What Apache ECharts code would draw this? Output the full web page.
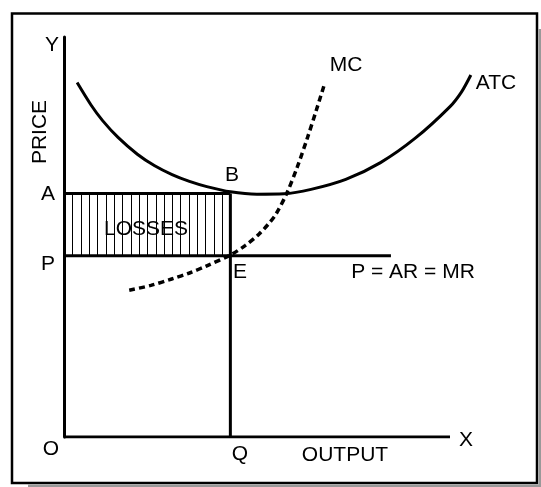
<!DOCTYPE html>
<html>
<head>
<meta charset="utf-8">
<script src="https://cdn.jsdelivr.net/npm/echarts@6/dist/echarts.min.js"></script>
<style>
html,body{margin:0;padding:0;background:#fff;}
#chart{width:541px;height:487px;}
</style>
</head>
<body>
<div id="chart"></div>
<script>
// ---- data (x: output, y: price; axis drawn 0..100) ----
const atcCurve = [[3.4,88.6],[7,83.0],[10,79.1],[14,74.9],[19,70.7],[23.5,67.8],[28,65.6],[32.5,63.9],[37,62.6],[43.1,61.3],[50,60.7],[57,60.8],[64,61.9],[73,64.4],[82,68.6],[91,74.7],[100,82.6],[103,86.3],[105.4,90.5]];
const mcCurve = [[16.9,36.7],[22.5,37.9],[27.9,39.5],[32.5,41.0],[37.0,42.8],[43.1,45.5],[47,47.9],[50.5,50.7],[53,53.3],[54.9,55.7],[57.7,60.9],[60.4,67.4],[63.1,74.9],[65.3,81.5],[67.6,88.6]];
const priceP = 45.3;      // P = AR = MR level
const costA = 60.9;       // A = ATC at Q
const outputQ = 43.1;     // Q
const mrEnd = 84.7;       // end of the P = AR = MR line
const xAxisEnd = 100;     // end of the drawn X axis
const mrLine = [[0, priceP], [mrEnd, priceP]];
const aLine = [[0, costA], [outputQ, costA]];
const qLine = [[outputQ, 0], [outputQ, costA]];
const xAxisLine = [[0, 0], [xAxisEnd, 0]];
const lossRect = [[0, priceP, outputQ, costA]];

const FONT = '21px "Liberation Sans", Arial, sans-serif';
function txt(t, x, y, extra) {
  return Object.assign({
    type: 'text', x: x, y: y, z: 10,
    style: { text: t, font: FONT, fill: '#000', align: 'center', verticalAlign: 'middle' }
  }, extra || {});
}

const chart = echarts.init(document.getElementById('chart'), null, { renderer: 'canvas' });
const blackLine = { color: '#000', width: 3 };
chart.setOption({
  animation: false,
  backgroundColor: '#fff',
  grid: { left: 64, right: 52.4, top: 37, bottom: 50 },
  xAxis: {
    type: 'value', min: 0, max: 110,
    axisLine: { show: false },
    axisTick: { show: false }, axisLabel: { show: false }, splitLine: { show: false }
  },
  yAxis: {
    type: 'value', min: 0, max: 100,
    axisLine: { show: true, lineStyle: { color: '#000', width: 3 } },
    axisTick: { show: false }, axisLabel: { show: false }, splitLine: { show: false }
  },
  series: [
    {
      type: 'custom', name: 'losses', data: lossRect, clip: false, z: 1,
      renderItem: function (params, api) {
        const p0 = api.coord([api.value(0), api.value(1)]);
        const p1 = api.coord([api.value(2), api.value(3)]);
        const left = p0[0], right = p1[0], bottom = p0[1], top = p1[1];
        const n = Math.round((right - left) / 8.3);
        const step = (right - left) / n;
        const children = [];
        for (let i = 1; i < n; i++) {
          const x = Math.round(left + i * step) + 0.5;
          children.push({ type: 'line', shape: { x1: x, y1: top, x2: x, y2: bottom }, style: { stroke: '#000', lineWidth: 1 } });
        }
        return { type: 'group', children: children };
      }
    },
    { type: 'line', name: 'ATC', data: atcCurve, smooth: 0.3, showSymbol: false, symbol: 'none', lineStyle: blackLine, z: 3 },
    { type: 'line', name: 'MC', data: mcCurve, smooth: 0.3, showSymbol: false, symbol: 'none', lineStyle: { color: '#000', width: 3.5, type: [6, 4] }, z: 3 },
    { type: 'line', name: 'MR', data: mrLine, showSymbol: false, symbol: 'none', lineStyle: blackLine, z: 2 },
    { type: 'line', name: 'A', data: aLine, showSymbol: false, symbol: 'none', lineStyle: blackLine, z: 2 },
    { type: 'line', name: 'Q', data: qLine, showSymbol: false, symbol: 'none', lineStyle: blackLine, z: 2 },
    { type: 'line', name: 'Xaxis', data: xAxisLine, showSymbol: false, symbol: 'none', lineStyle: blackLine, z: 2 }
  ],
  graphic: [
    { type: 'rect', z: 0, shape: { x: 12, y: 13.5, width: 525, height: 469.5 }, style: { fill: 'none', stroke: '#000', lineWidth: 2.5 } },
    { type: 'line', z: 0, shape: { x1: 540, y1: 29, x2: 540, y2: 487 }, style: { stroke: '#999', lineWidth: 3 } },
    { type: 'line', z: 0, shape: { x1: 28, y1: 486, x2: 541, y2: 486 }, style: { stroke: '#999', lineWidth: 3 } },
    txt('Y', 52, 45),
    txt('PRICE', 40, 132, { rotation: Math.PI / 2 }),
    txt('A', 48, 194),
    txt('P', 48, 264),
    txt('B', 232, 175),
    txt('E', 240, 272),
    txt('LOSSES', 146, 229),
    txt('MC', 346, 65),
    txt('ATC', 496, 83),
    txt('P = AR = MR', 413, 272),
    txt('O', 51, 449),
    txt('Q', 240, 454),
    txt('OUTPUT', 345, 455),
    txt('X', 466, 440)
  ]
});
</script>
</body>
</html>
